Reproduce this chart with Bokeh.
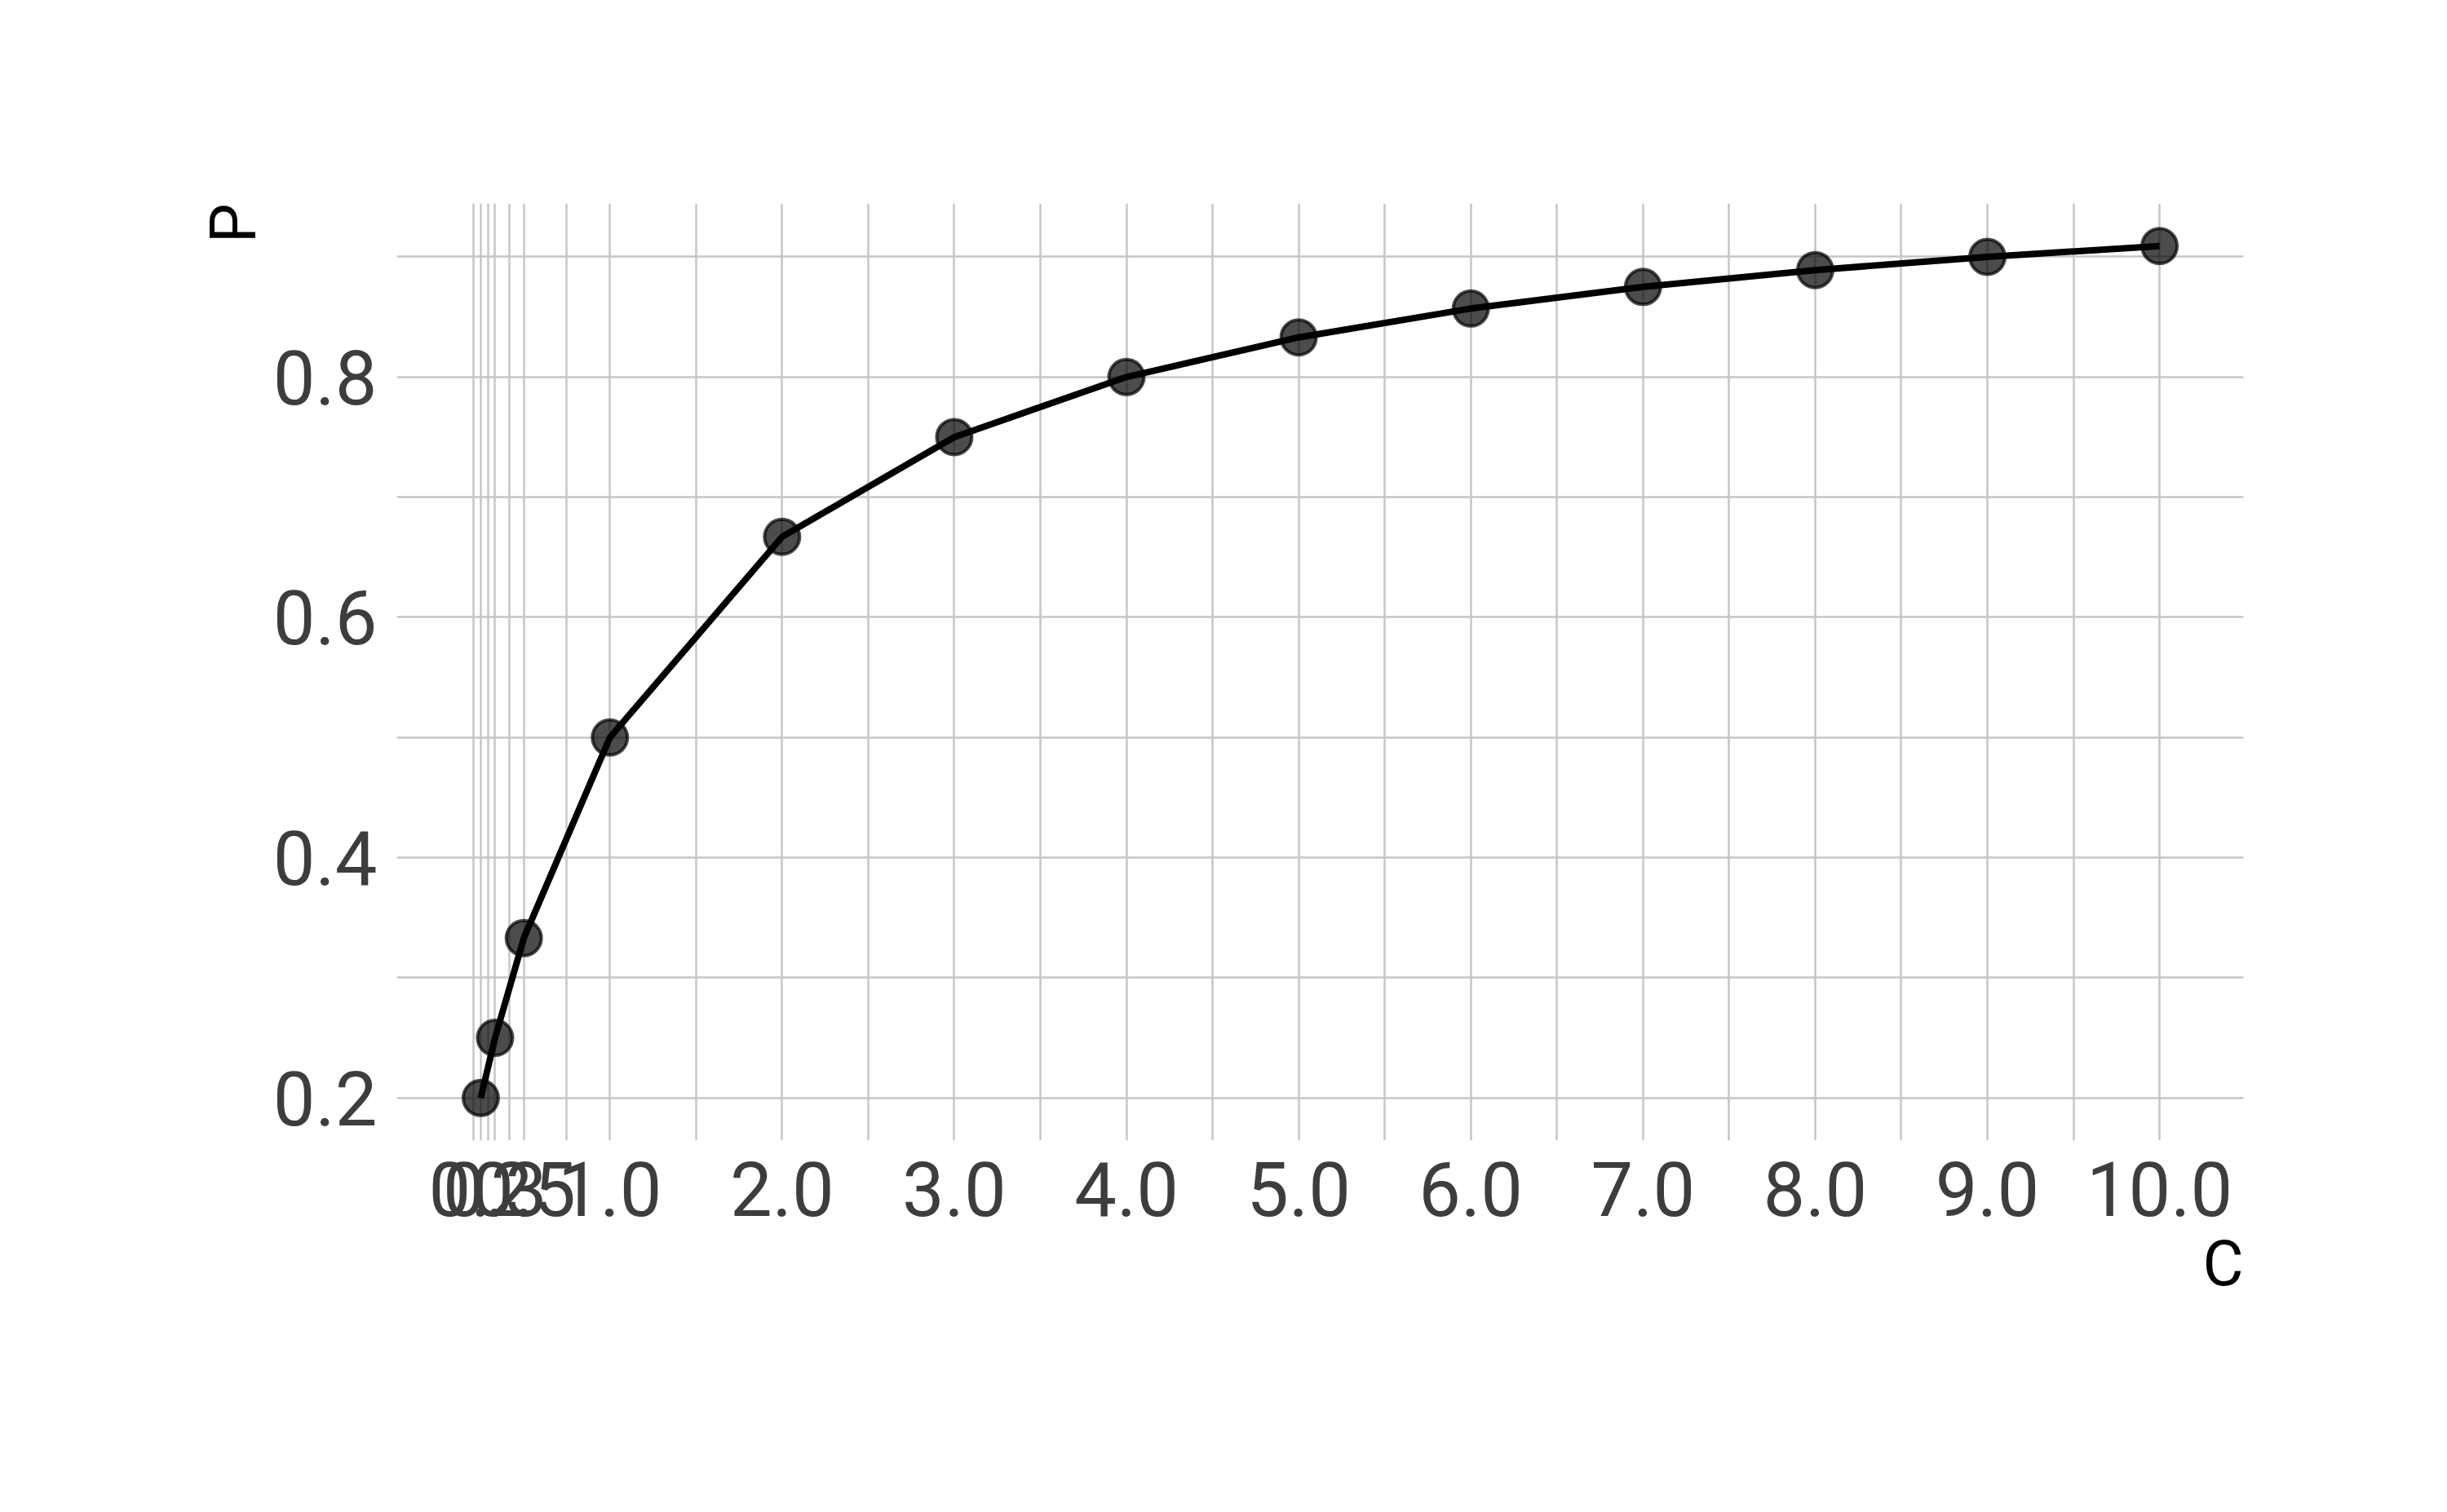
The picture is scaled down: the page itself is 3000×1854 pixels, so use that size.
from bokeh.plotting import figure
from bokeh.models import FixedTicker, Range1d, Title
from bokeh.embed import file_html
from bokeh.resources import INLINE

# data
c_values = [0.25, 0.333, 0.5, 1.0, 2.0, 3.0, 4.0, 5.0, 6.0, 7.0, 8.0, 9.0, 10.0]
p_values = [0.2, 0.25, 0.333, 0.5, 0.667, 0.75, 0.8, 0.833, 0.857, 0.875, 0.889, 0.9, 0.909]
x_tick_labels = ["0.2", "0.3", "0.5", "1.0", "2.0", "3.0", "4.0", "5.0", "6.0", "7.0", "8.0", "9.0", "10.0"]
y_ticks = [0.2, 0.4, 0.6, 0.8]
y_tick_labels = ["0.2", "0.4", "0.6", "0.8"]
x_title = "C"
y_title = "P"

FONT = "Roboto"

xmin, xmax = min(c_values), max(c_values)
ymin, ymax = min(p_values), max(p_values)
xpad = (xmax - xmin) * 0.05
ypad = (ymax - ymin) * 0.05
x0, x1 = xmin - xpad, xmax + xpad
y0, y1 = ymin - ypad, ymax + ypad

# minor breaks: midpoints between major breaks, plus one below the first
minor_x = [(a + b) / 2 for a, b in zip(c_values[:-1], c_values[1:])]
minor_x.insert(0, c_values[0] - (c_values[1] - c_values[0]) / 2)
minor_y = [(a + b) / 2 for a, b in zip(y_ticks[:-1], y_ticks[1:])]
minor_y.append(y_ticks[-1] + (y_ticks[1] - y_ticks[0]) / 2)

W, H = 2984, 1838
LEFT, TOP, RIGHT, BOTTOM = 486, 249, 234, 440

p = figure(width=W, height=H, output_backend="svg", toolbar_location=None,
           x_range=Range1d(x0, x1), y_range=Range1d(y0, y1),
           min_border_left=LEFT, min_border_right=RIGHT, min_border_top=TOP,
           min_border_bottom=BOTTOM)
p.outline_line_color = None
p.background_fill_color = "white"
p.border_fill_color = "white"

p.xaxis.ticker = FixedTicker(ticks=c_values, minor_ticks=minor_x)
p.yaxis.ticker = FixedTicker(ticks=y_ticks, minor_ticks=minor_y)
p.xaxis.major_label_overrides = {float(v): t for v, t in zip(c_values, x_tick_labels)}
p.yaxis.major_label_overrides = {float(v): t for v, t in zip(y_ticks, y_tick_labels)}

for ax in (p.xaxis, p.yaxis):
    ax.axis_line_color = None
    ax.major_tick_line_color = None
    ax.minor_tick_line_color = None
    ax.major_tick_out = 0
    ax.major_tick_in = 0
    ax.minor_tick_out = 0
    ax.minor_tick_in = 0
    ax.major_label_text_font = FONT
    ax.major_label_text_font_size = "92px"
    ax.major_label_text_color = "#3d3d3d"
p.xaxis.major_label_standoff = 25
p.yaxis.major_label_standoff = 24

GRID = "#c6c6c6"
for g in (p.xgrid, p.ygrid):
    g.grid_line_color = GRID
    g.grid_line_width = 2.5
    g.minor_grid_line_color = GRID
    g.minor_grid_line_width = 2.5

p.scatter(c_values, p_values, size=43, marker="circle", fill_color="black", fill_alpha=0.7,
          line_color="black", line_alpha=0.7, line_width=4)
p.line(c_values, p_values, line_color="black", line_width=8)

# axis titles
p.add_layout(Title(text=x_title, align="right", text_font=FONT, text_font_size="77px",
                   text_font_style="normal", text_color="black", standoff=19), "below")
p.add_layout(Title(text=y_title, align="right", text_font=FONT, text_font_size="77px",
                   text_font_style="normal", text_color="black", standoff=0), "left")

open("out.html", "w").write(file_html(p, INLINE))
